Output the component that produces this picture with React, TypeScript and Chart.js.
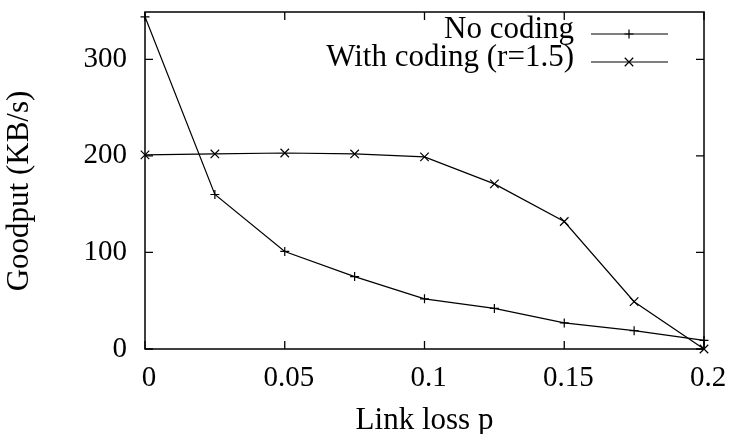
import React, { useEffect, useRef } from "react";
import { Chart, registerables } from "chart.js";

Chart.register(...registerables);

const lossRates = [0, 0.025, 0.05, 0.075, 0.1, 0.125, 0.15, 0.175, 0.2];
const noCoding = [344, 160, 101, 75, 52, 42, 27, 19, 9];
const withCoding = [201, 202, 203, 202, 199, 171, 132, 49, 0];
const xTicks = [0, 0.05, 0.1, 0.15, 0.2];
const yTicks = [0, 100, 200, 300];
const seriesLabels = ["No coding", "With coding (r=1.5)"];
const xTitle = "Link loss p";
const yTitle = "Goodput (KB/s)";

const FONT = "Liberation Serif";
const FSIZE = 29;
const TSIZE = 31;

const framePlugin = {
  id: "gnuplotFrame",
  beforeDatasetsDraw(chart: any) {
    const { ctx, chartArea } = chart;
    const { left, right, top, bottom } = chartArea;
    const xs = chart.scales.x;
    const ys = chart.scales.y;
    ctx.save();
    ctx.strokeStyle = "#000";
    ctx.lineWidth = 1.5;
    ctx.strokeRect(left, top, right - left, bottom - top);
    ctx.lineWidth = 1.3;
    const tl = 8;
    ctx.beginPath();
    xTicks.forEach((v) => {
      const px = xs.getPixelForValue(v);
      ctx.moveTo(px, bottom);
      ctx.lineTo(px, bottom - tl);
      ctx.moveTo(px, top);
      ctx.lineTo(px, top + tl);
    });
    yTicks.forEach((v) => {
      const py = ys.getPixelForValue(v);
      ctx.moveTo(left, py);
      ctx.lineTo(left + tl, py);
      ctx.moveTo(right, py);
      ctx.lineTo(right - tl, py);
    });
    ctx.stroke();
    ctx.restore();
  },
  afterDraw(chart: any) {
    const { ctx, chartArea } = chart;
    ctx.save();
    ctx.fillStyle = "#000";
    ctx.font = `${TSIZE}px "${FONT}"`;
    ctx.textAlign = "center";
    ctx.textBaseline = "alphabetic";
    ctx.fillText(xTitle, (chartArea.left + chartArea.right) / 2, 429);
    ctx.save();
    ctx.translate(28, 191);
    ctx.rotate(-Math.PI / 2);
    ctx.fillText(yTitle, 0, 0);
    ctx.restore();
    const rows = [
      { y: 34, style: "cross", r: 4.5 },
      { y: 62, style: "crossRot", r: 6 },
    ];
    rows.forEach((row, i) => {
      ctx.textAlign = "right";
      ctx.textBaseline = "alphabetic";
      ctx.fillText(seriesLabels[i], 574, row.y + 4);
      ctx.strokeStyle = "#000";
      ctx.lineWidth = 1.2;
      ctx.beginPath();
      ctx.moveTo(591, row.y);
      ctx.lineTo(668, row.y);
      ctx.stroke();
      const cx = 629;
      ctx.beginPath();
      if (row.style === "cross") {
        ctx.moveTo(cx - row.r, row.y);
        ctx.lineTo(cx + row.r, row.y);
        ctx.moveTo(cx, row.y - row.r);
        ctx.lineTo(cx, row.y + row.r);
      } else {
        const d = row.r * Math.SQRT1_2;
        ctx.moveTo(cx - d, row.y - d);
        ctx.lineTo(cx + d, row.y + d);
        ctx.moveTo(cx - d, row.y + d);
        ctx.lineTo(cx + d, row.y - d);
      }
      ctx.stroke();
    });
    ctx.restore();
  },
};

export default function App() {
  const ref = useRef<HTMLCanvasElement | null>(null);
  useEffect(() => {
    if (!ref.current) return;
    const chart = new Chart(ref.current, {
      type: "line",
      data: {
        datasets: [
          {
            label: seriesLabels[0],
            data: lossRates.map((x, i) => ({ x, y: noCoding[i] })),
            borderColor: "#000",
            borderWidth: 1.2,
            pointStyle: "cross",
            pointRadius: 4.5,
            pointBorderWidth: 1.2,
            pointBorderColor: "#000",
            pointBackgroundColor: "#000",
            fill: false,
            tension: 0,
            clip: false as any,
          },
          {
            label: seriesLabels[1],
            data: lossRates.map((x, i) => ({ x, y: withCoding[i] })),
            borderColor: "#000",
            borderWidth: 1.2,
            pointStyle: "crossRot",
            pointRadius: 6,
            pointBorderWidth: 1.2,
            pointBorderColor: "#000",
            pointBackgroundColor: "#000",
            fill: false,
            tension: 0,
            clip: false as any,
          },
        ],
      },
      options: {
        animation: false,
        responsive: false,
        devicePixelRatio: 1,
        layout: { padding: { left: 0, top: 12, right: 25, bottom: 0 } },
        plugins: {
          legend: { display: false },
          tooltip: { enabled: false },
          title: { display: false },
        },
        scales: {
          x: {
            type: "linear",
            min: 0,
            max: 0.2,
            afterBuildTicks: (s: any) => {
              s.ticks = xTicks.map((v) => ({ value: v }));
            },
            afterFit: (s: any) => {
              s.height = 85;
              s.paddingLeft = 0;
              s.paddingRight = 0;
              s.paddingTop = 0;
              s.paddingBottom = 0;
            },
            grid: { display: false, drawTicks: false },
            border: { display: false },
            ticks: {
              font: { family: FONT, size: FSIZE },
              color: "#000",
              padding: 12,
              labelOffset: 4,
              maxRotation: 0,
              autoSkip: false,
              callback: (v: any) => String(v),
            },
          },
          y: {
            type: "linear",
            min: 0,
            max: 349,
            afterBuildTicks: (s: any) => {
              s.ticks = yTicks.map((v) => ({ value: v }));
            },
            afterFit: (s: any) => {
              s.width = 145;
              s.paddingLeft = 0;
              s.paddingRight = 0;
              s.paddingTop = 0;
              s.paddingBottom = 0;
            },
            grid: { display: false, drawTicks: false },
            border: { display: false },
            ticks: {
              font: { family: FONT, size: FSIZE },
              color: "#000",
              padding: 18,
              autoSkip: false,
              callback: (v: any) => String(v),
            },
          },
        },
      },
      plugins: [framePlugin],
    });
    return () => chart.destroy();
  }, []);
  return (
    <div style={{ position: "absolute", left: 0, top: 0, width: 729, height: 434, background: "#fff" }}>
      <canvas ref={ref} width={729} height={434} />
    </div>
  );
}
